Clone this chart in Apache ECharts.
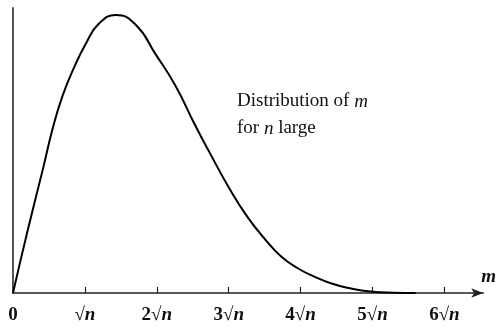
<!DOCTYPE html>
<html>
<head>
<meta charset="utf-8">
<script src="https://cdn.jsdelivr.net/npm/echarts@6/dist/echarts.min.js"></script>
<style>html,body{margin:0;padding:0;background:#fff}#c{width:499px;height:328px}</style>
</head>
<body>
<div id="c"></div>
<script>
// x in units of sqrt(n), y relative density (peak = 1)
const xValues = [0, 0.19, 0.42, 0.56, 0.69, 0.83, 1.02, 1.2, 1.43, 1.71, 1.98, 2.26, 2.53, 2.72, 3.04, 3.27, 3.5, 3.73, 3.96, 4.19, 4.42, 4.65, 4.97, 5.3, 5.6];
const yValues = [0, 0.21, 0.45, 0.60, 0.71, 0.80, 0.90, 0.97, 1.0, 0.964, 0.86, 0.745, 0.605, 0.512, 0.362, 0.27, 0.195, 0.131, 0.089, 0.059, 0.035, 0.019, 0.005, 0.001, 0];
const tickLabels = ['0', '√n', '2√n', '3√n', '4√n', '5√n', '6√n'];
const annotationLines = ['Distribution of {i|m}', 'for {i|n} large'];
const axisName = 'm';

const serif = '"Liberation Serif", "DejaVu Serif", serif';
const chart = echarts.init(document.getElementById('c'));
chart.setOption({
  animation: false,
  backgroundColor: '#fff',
  grid: { left: 13, right: 12, top: 8, bottom: 35 },
  xAxis: {
    type: 'value', min: 0, max: 6.54, interval: 1,
    name: axisName,
    nameLocation: 'end', nameGap: 0,
    nameTextStyle: { fontFamily: serif, fontStyle: 'italic', fontWeight: 'bold', fontSize: 19, color: '#111', align: 'left', verticalAlign: 'bottom', padding: [0, 0, 6, -2] },
    axisLine: { lineStyle: { color: '#222', width: 1.5 }, symbol: ['none', 'arrow'], symbolSize: [7, 12], symbolOffset: [0, 0] },
    axisTick: { show: true, inside: true, length: 6, lineStyle: { color: '#222', width: 1.2 } },
    splitLine: { show: false },
    axisLabel: {
      margin: 13,
      fontFamily: serif, fontSize: 19, fontWeight: 'bold', color: '#111',
      showMaxLabel: false,
      formatter: function (v) {
        const k = Math.round(v);
        const s = tickLabels[k] || '';
        return s.replace('n', '{i|n}');
      },
      rich: { i: { fontFamily: serif, fontStyle: 'italic', fontWeight: 'bold', fontSize: 19, color: '#111' } }
    }
  },
  yAxis: {
    type: 'value', min: 0, max: 1.025,
    axisLine: { show: true, lineStyle: { color: '#555', width: 2 } },
    axisTick: { show: false }, axisLabel: { show: false }, splitLine: { show: false }
  },
  graphic: [{
    type: 'text', left: 237, top: 88,
    style: {
      text: annotationLines.join('\n'),
      fontFamily: serif, fontSize: 19, lineHeight: 27, fill: '#111',
      rich: { i: { fontFamily: serif, fontStyle: 'italic', fontSize: 19, lineHeight: 27, fill: '#111' } }
    }
  }],
  series: [{
    type: 'line',
    data: xValues.map((x, i) => [x, yValues[i]]),
    smooth: 0.5,
    showSymbol: false,
    lineStyle: { color: '#000', width: 2 }
  }]
});
</script>
</body>
</html>
